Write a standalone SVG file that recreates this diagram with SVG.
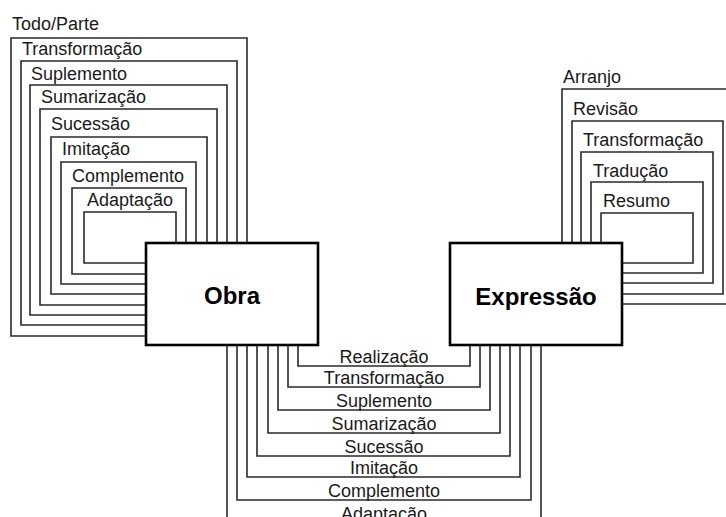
<svg xmlns="http://www.w3.org/2000/svg" width="726" height="517" viewBox="0 0 726 517">
  <style>
    .ln { fill: none; stroke: #2a2a2a; stroke-width: 1.6; }
    .box { fill: #fff; stroke: #000; stroke-width: 2.6; }
    .lbl { font-family: "Liberation Sans", Arial, sans-serif; font-size: 18px; fill: #1a1a1a; }
    .mid { text-anchor: middle; }
    .title { font-family: "Liberation Sans", Arial, sans-serif; font-size: 24px; font-weight: bold; fill: #000; text-anchor: middle; }
  </style>
  <rect width="726" height="517" fill="#fff"/>
  <g id="connectors">
    <!-- Obra whole/part nested relations (left) -->
    <g id="obra-self">
      <path class="ln" d="M247 243 V38 H11 V336 H146"/>
      <path class="ln" d="M237 243 V61 H21 V325 H146"/>
      <path class="ln" d="M227 243 V85 H30 V315 H146"/>
      <path class="ln" d="M217 243 V109 H40 V305 H146"/>
      <path class="ln" d="M207 243 V137 H51 V294 H146"/>
      <path class="ln" d="M196 243 V162 H61 V284 H146"/>
      <path class="ln" d="M186 243 V188 H72 V274 H146"/>
      <path class="ln" d="M176 243 V212 H84 V263 H146"/>
    </g>
    <!-- Expressão self relations (right) -->
    <g id="expressao-self">
      <path class="ln" d="M562 243 V89 H740 V304 H622"/>
      <path class="ln" d="M572 243 V121 H723 V294 H622"/>
      <path class="ln" d="M581 243 V152 H713 V283 H622"/>
      <path class="ln" d="M591 243 V182 H703 V273 H622"/>
      <path class="ln" d="M601 243 V213 H693 V263 H622"/>
    </g>
    <!-- Obra to Expressão relations (bottom) -->
    <g id="obra-expressao">
      <path class="ln" d="M298 345 V366 H470 V345"/>
      <path class="ln" d="M288 345 V387 H480 V345"/>
      <path class="ln" d="M278 345 V410 H490 V345"/>
      <path class="ln" d="M268 345 V433 H500 V345"/>
      <path class="ln" d="M257 345 V456 H510 V345"/>
      <path class="ln" d="M247 345 V477 H520 V345"/>
      <path class="ln" d="M237 345 V500 H531 V345"/>
      <path class="ln" d="M227 345 V530 H541 V345"/>
    </g>
  </g>
  <g id="labels">
    <text class="lbl" x="12" y="30">Todo/Parte</text>
    <text class="lbl" x="22" y="55">Transformação</text>
    <text class="lbl" x="31" y="80">Suplemento</text>
    <text class="lbl" x="41" y="103">Sumarização</text>
    <text class="lbl" x="51" y="130">Sucessão</text>
    <text class="lbl" x="62" y="155">Imitação</text>
    <text class="lbl" x="72" y="182">Complemento</text>
    <text class="lbl" x="87" y="206">Adaptação</text>

    <text class="lbl" x="563" y="83">Arranjo</text>
    <text class="lbl" x="573" y="115">Revisão</text>
    <text class="lbl" x="583" y="146">Transformação</text>
    <text class="lbl" x="593" y="177">Tradução</text>
    <text class="lbl" x="603" y="207">Resumo</text>

    <text class="lbl mid" x="384" y="363">Realização</text>
    <text class="lbl mid" x="384" y="384">Transformação</text>
    <text class="lbl mid" x="384" y="407">Suplemento</text>
    <text class="lbl mid" x="384" y="430">Sumarização</text>
    <text class="lbl mid" x="384" y="453">Sucessão</text>
    <text class="lbl mid" x="384" y="474">Imitação</text>
    <text class="lbl mid" x="384" y="497">Complemento</text>
    <text class="lbl mid" x="384" y="520">Adaptação</text>
  </g>
  <g id="obra">
    <rect class="box" x="146" y="243" width="172" height="102"/>
    <text class="title" x="232" y="304">Obra</text>
  </g>
  <g id="expressao">
    <rect class="box" x="450" y="243" width="172" height="102"/>
    <text class="title" x="536" y="305">Expressão</text>
  </g>
</svg>
